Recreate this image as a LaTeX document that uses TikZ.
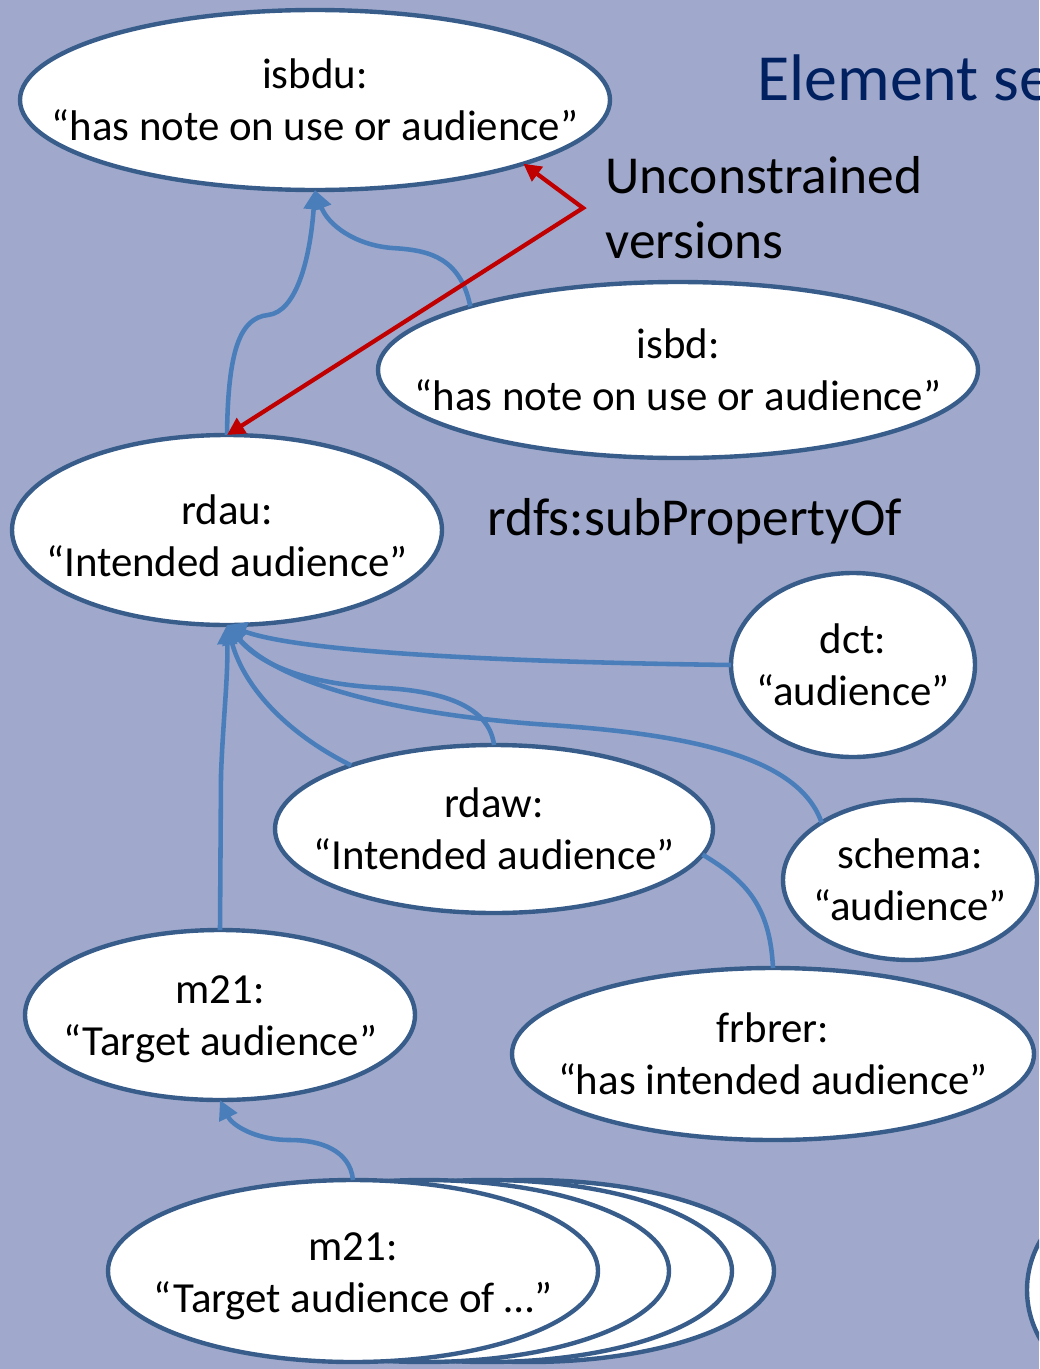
\documentclass[tikz,border=0pt]{standalone}
\usepackage{fontspec}
\setmainfont{Carlito}
\usetikzlibrary{shapes,arrows.meta}
\definecolor{slideblue}{RGB}{160,169,204}
\definecolor{rimblue}{RGB}{56,93,138}
\definecolor{linkblue}{RGB}{74,126,187}
\definecolor{titleblue}{RGB}{0,32,96}
\definecolor{darkred}{RGB}{192,0,0}
\newdimen\px \px=0.02cm
\tikzstyle{prop} = [ellipse, draw=rimblue, fill=white, line width=2.5pt,
    inner sep=0pt, outer sep=0pt]
\tikzstyle{proptext} = [align=center, font=\fontsize{24.4}{29.5}\selectfont]
\tikzstyle{side} = [anchor=base west, inner sep=0pt, align=left,
    font=\fontsize{30.4}{36.9}\selectfont]
\tikzstyle{link} = [draw=linkblue, line width=2.6pt, -{Triangle[length=11pt, width=11pt]}]
\tikzstyle{plain} = [draw=linkblue, line width=2.6pt]
\tikzstyle{redlink} = [draw=darkred, line width=2.4pt,
    {Triangle[length=10pt, width=10pt]}-{Triangle[length=10pt, width=10pt]}]

\begin{document}
\begin{tikzpicture}[x=0.02cm, y=-0.02cm]
    \clip (0,0) rectangle (1039,1369);
    \fill[slideblue] (0,0) rectangle (1039,1369);

    % headings
    \node[side, font=\fontsize{37.5}{45}\selectfont, text=titleblue] (title) at (757,100) {Element se};
    \node[side] (unconstrained) at (605,258) {Unconstrained\\versions};
    \node[side] (subprop) at (487,535) {rdfs:subPropertyOf};

    % properties
    \node[prop, minimum width=590\px, minimum height=180\px,
        label={[proptext]center:{isbdu:\\“has note on use or audience”}}] (isbdu) at (315,100) {};
    \node[prop, minimum width=600\px, minimum height=176\px,
        label={[proptext]center:{isbd:\\“has note on use or audience”}}] (isbd) at (678,370) {};
    \node[prop, minimum width=430\px, minimum height=190\px,
        label={[proptext, yshift=-3.5pt]center:{rdau:\\“Intended audience”}}] (rdau) at (227,530) {};
    \node[prop, minimum width=244\px, minimum height=184\px,
        label={[proptext]center:{dct:\\“audience”}}] (dct) at (853,665) {};
    \node[prop, minimum width=438\px, minimum height=168\px,
        label={[proptext]center:{rdaw:\\“Intended audience”}}] (rdaw) at (494,829) {};
    \node[prop, minimum width=254\px, minimum height=160\px,
        label={[proptext]center:{schema:\\“audience”}}] (schema) at (910,880) {};
    \node[prop, minimum width=390\px, minimum height=170\px,
        label={[proptext, yshift=-2.5pt]center:{m21:\\“Target audience”}}] (m21) at (220,1015) {};
    \node[prop, minimum width=522\px, minimum height=172\px,
        label={[proptext]center:{frbrer:\\“has intended audience”}}] (frbrer) at (773,1054) {};

    % stack of m21 properties
    \node[prop, minimum width=490\px, minimum height=182\px] (m21ofd) at (529,1271) {};
    \node[prop, minimum width=490\px, minimum height=182\px] (m21ofc) at (487,1271) {};
    \node[prop, minimum width=490\px, minimum height=182\px] (m21ofb) at (424,1271) {};
    \node[prop, minimum width=490\px, minimum height=182\px,
        label={[proptext, yshift=-3pt]center:{m21:\\“Target audience of …”}}] (m21of) at (353,1271) {};
    \node[prop, minimum width=206\px, minimum height=200\px] (offpage) at (1130,1290) {};

    % links to isbdu
    \draw[link] (rdau.north) .. controls (228,350) and (240,318) .. (268,315)
        .. controls (296,312) and (310,260) .. (isbdu.south);
    \draw[link] (isbd.163) .. controls (460,255) and (425,250) .. (392,248)
        .. controls (355,245) and (328,225) .. (isbdu.south);
    \coordinate (bend) at (583,208);
    \draw[redlink] (isbdu.-17) -- (bend) -- (rdau.north);

    % links to rdau
    \draw[link] (m21.north) -- (221,775) .. controls (223,720) and (228,680) .. (rdau.south);
    \draw[link] (dct.west) .. controls (500,662) and (300,652) .. (rdau.south);
    \draw[link] (schema.147) .. controls (800,760) and (700,735) .. (550,725)
        .. controls (400,715) and (280,685) .. (rdau.south);
    \draw[link] (rdaw.north) .. controls (490,712) and (455,692) .. (385,688)
        .. controls (300,684) and (258,662) .. (rdau.south);
    \draw[link] (rdaw.156) .. controls (290,735) and (245,690) .. (rdau.south);
    \draw[plain] (frbrer.north) .. controls (770,905) and (745,880) .. (rdaw.-7);
    \draw[link] (m21of.north) .. controls (350,1150) and (320,1140) .. (290,1140)
        .. controls (255,1140) and (232,1125) .. (m21.south);
\end{tikzpicture}
\end{document}
